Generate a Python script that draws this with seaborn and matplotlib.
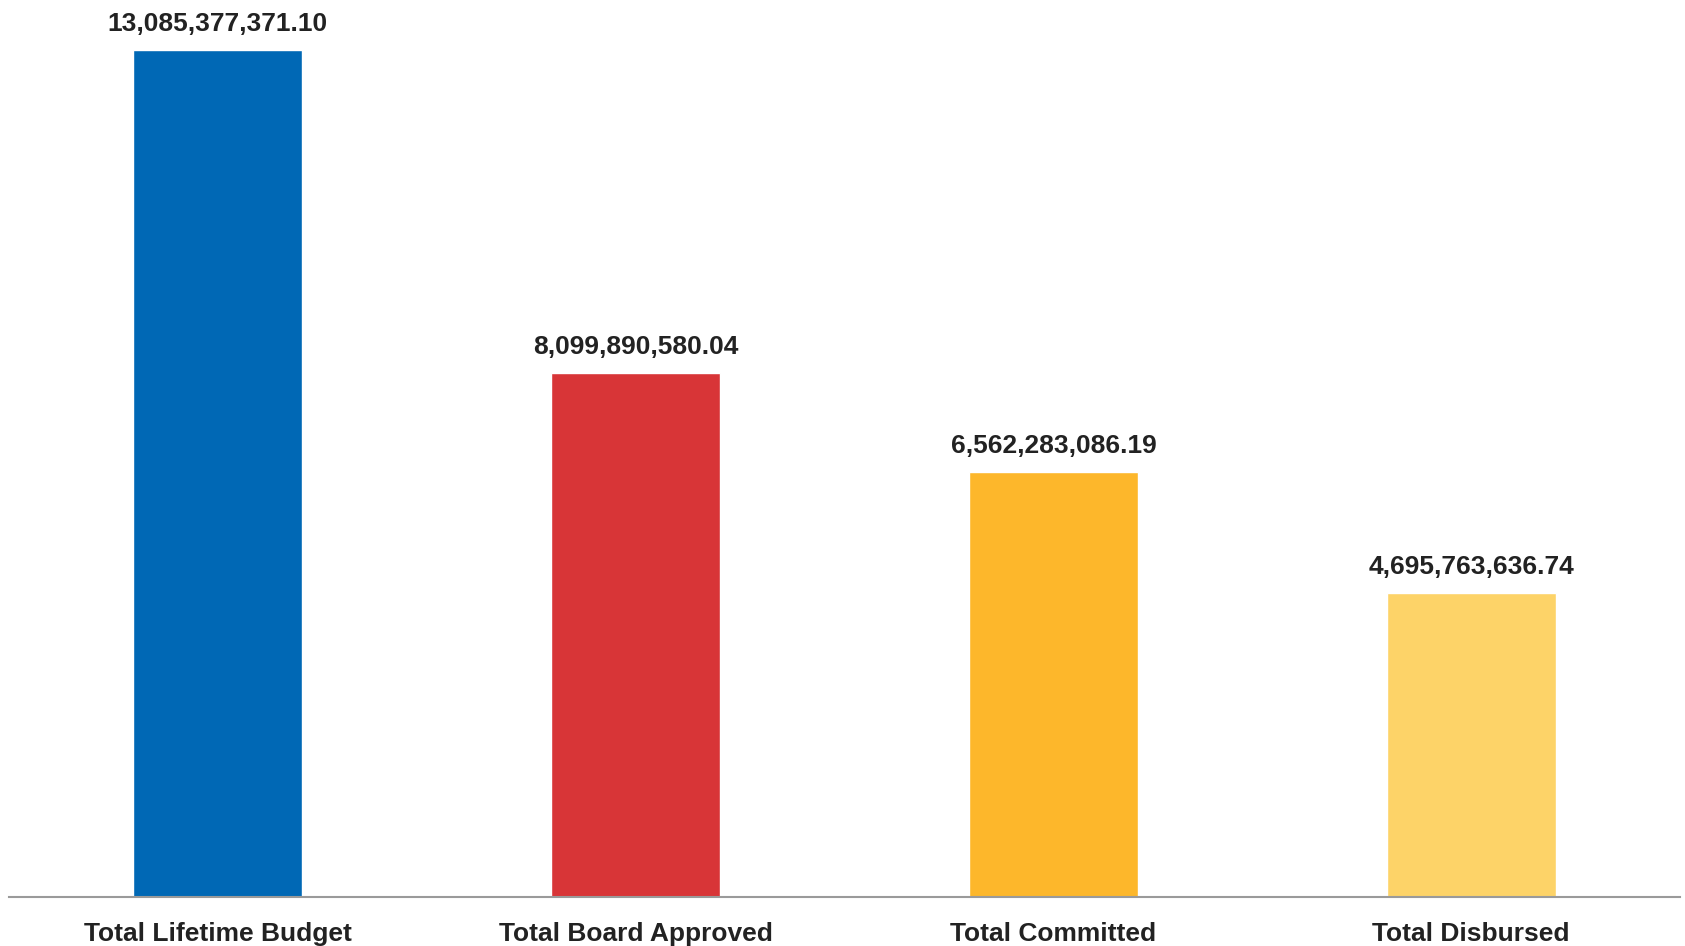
import matplotlib
matplotlib.use("Agg")
import matplotlib.pyplot as plt
import seaborn as sns
import pandas as pd

categories = ["Total Lifetime Budget", "Total Board Approved", "Total Committed", "Total Disbursed"]
values = [13085377371.10, 8099890580.04, 6562283086.19, 4695763636.74]
colors = ["#0068B5", "#D83537", "#FDB72B", "#FDD368"]

sns.set_theme(style="white")
plt.rcParams['font.family'] = ['Liberation Sans', 'DejaVu Sans']

df = pd.DataFrame({"category": categories, "value": values})

fig = plt.figure(figsize=(16.85, 9.46), dpi=100)
ax = fig.add_axes([9/1685, 49/946, 1671/1685, 897/946])
sns.barplot(data=df, x="category", y="value", hue="category", palette=colors,
            legend=False, width=0.405, ax=ax, saturation=1)

ax.set_ylim(0, max(values) * 1.059)
ax.set_xlim(-0.5, len(categories) - 0.5)
ax.set_xlabel("")
ax.set_ylabel("")
ax.set_yticks([])
for s in ["top", "right", "left"]:
    ax.spines[s].set_visible(False)
ax.spines["bottom"].set_color("#9a9a9a")
ax.spines["bottom"].set_linewidth(1.5)
ax.tick_params(axis="x", length=0, pad=18, labelsize=19, labelcolor="#222222")
for lbl in ax.get_xticklabels():
    lbl.set_fontweight("bold")

for i, v in enumerate(values):
    ax.annotate(f"{v:,.2f}", xy=(i, v), xytext=(0, 19), textcoords="offset pixels",
                ha="center", va="baseline", fontsize=19, fontweight="bold", color="#222222")

fig.savefig("out.png", dpi=100)
